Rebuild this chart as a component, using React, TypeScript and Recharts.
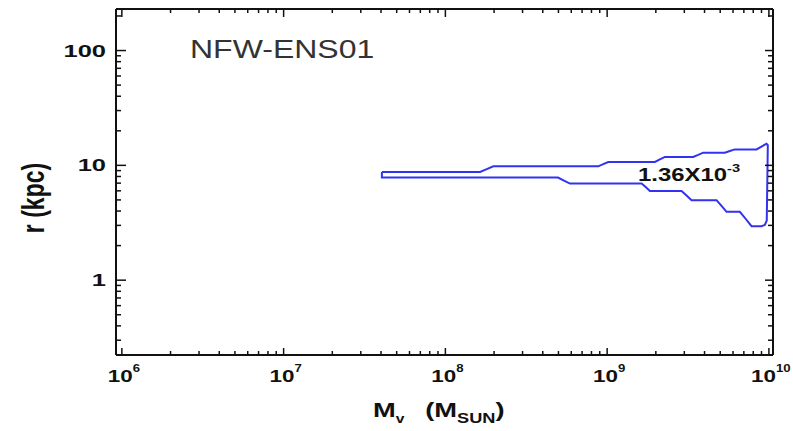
import { LineChart, Line, XAxis, YAxis, Customized } from "recharts";

// contour, upper edge left -> right (Msun, kpc)
const upperMass = [
  4.05e7, 1.638e8, 1.802e8, 1.98e8, 8.81e8, 9.46e8, 1.016e9, 1.974e9, 2.119e9, 2.275e9,
  3.402e9, 3.653e9, 3.923e9, 5.341e9, 5.735e9, 6.158e9, 8.384e9, 9.0e9, 9.665e9, 9.845e9,
];
const upperRadius = [
  8.76, 8.76, 9.27, 9.8, 9.8, 10.24, 10.7, 10.7, 11.25, 11.83,
  11.83, 12.33, 12.89, 12.89, 13.34, 13.77, 13.77, 14.59, 15.43, 14.97,
];
// right side + lower edge, right -> left
const lowerMass = [
  9.7e9, 9.434e9, 9.0e9, 7.807e9, 7.2e9, 6.612e9, 5.472e9, 5.095e9, 4.746e9, 3.325e9,
  3.097e9, 2.885e9, 1.838e9, 1.737e9, 1.634e9, 5.891e8, 5.41e8, 4.967e8, 4.05e7, 4.05e7,
];
const lowerRadius = [
  3.31, 3.027, 2.955, 2.955, 3.41, 3.94, 3.94, 4.43, 4.97, 4.97,
  5.46, 5.99, 5.99, 6.45, 6.94, 6.94, 7.36, 7.82, 7.82, 8.76,
];

const xMajor = [1e6, 1e7, 1e8, 1e9, 1e10];
const xLabels = ["6", "7", "8", "9", "10"];
const yMajor = [1, 10, 100];
const yLabels = ["1", "10", "100"];
const digits = [2, 3, 4, 5, 6, 7, 8, 9];

const xDomain = [9.2e5, 1.06e10];
const yDomain = [0.223, 230];

const data = [
  ...upperMass.map((m, i) => ({ m, r: upperRadius[i] })),
  ...lowerMass.map((m, i) => ({ m, r: lowerRadius[i] })),
];

const inDomain = (v: number, d: number[]) => v >= d[0] && v <= d[1];
const withMinor = (majors: number[], d: number[]) => {
  const all: number[] = [];
  [majors[0] / 10, ...majors].forEach((p) => {
    [1, ...digits].forEach((k) => {
      const v = p * k;
      if (inDomain(v, d)) all.push(v);
    });
  });
  return all.sort((a, b) => a - b);
};
const xTicks = withMinor(xMajor, xDomain);
const yTicks = withMinor(yMajor, yDomain);

const majorIndex = (v: number, majors: number[]) =>
  majors.findIndex((m) => Math.abs(v / m - 1) < 1e-6);

const FONT = "'Liberation Sans', Arial, Helvetica, sans-serif";
const BLACK = "#111";

const BottomTick = (props: any) => {
  const { x, y, payload } = props;
  const idx = majorIndex(payload.value, xMajor);
  return (
    <g>
      <line x1={x} x2={x} y1={y} y2={y - (idx >= 0 ? 7 : 4)} stroke={BLACK} strokeWidth={1.5} />
      {idx >= 0 && (
        <text
          transform={`translate(${x + 2},${y + 27}) scale(1.32,1)`}
          textAnchor="middle"
          fontFamily={FONT}
          fontWeight="bold"
          fontSize={17}
          fill={BLACK}
        >
          10
          <tspan dy={-10} fontSize={10}>
            {xLabels[idx]}
          </tspan>
        </text>
      )}
    </g>
  );
};

const TopTick = (props: any) => {
  const { x, y, payload } = props;
  const idx = majorIndex(payload.value, xMajor);
  return <line x1={x} x2={x} y1={y} y2={y + (idx >= 0 ? 8 : 4)} stroke={BLACK} strokeWidth={1.5} />;
};

const LeftTick = (props: any) => {
  const { x, y, payload } = props;
  const idx = majorIndex(payload.value, yMajor);
  return (
    <g>
      <line x1={x} x2={x + (idx >= 0 ? 10 : 5)} y1={y} y2={y} stroke={BLACK} strokeWidth={1.5} />
      {idx >= 0 && (
        <text
          transform={`translate(${x - 10},${y + 6}) scale(1.5,1)`}
          textAnchor="end"
          fontFamily={FONT}
          fontWeight="bold"
          fontSize={17}
          fill={BLACK}
        >
          {yLabels[idx]}
        </text>
      )}
    </g>
  );
};

const RightTick = (props: any) => {
  const { x, y, payload } = props;
  const idx = majorIndex(payload.value, yMajor);
  return <line x1={x} x2={x - (idx >= 0 ? 8 : 5)} y1={y} y2={y} stroke={BLACK} strokeWidth={1.5} />;
};

const Annotations = () => (
  <g fontFamily={FONT}>
    <text transform="translate(190,58) scale(1.28,1)" fontSize={25} fill="#333">
      NFW-ENS01
    </text>
    <text
      transform="translate(638,181) scale(1.33,1)"
      fontSize={18}
      fontWeight="bold"
      fill={BLACK}
    >
      1.36X10
      <tspan dy={-9} fontSize={11}>
        -3
      </tspan>
    </text>
    <text
      transform="translate(44,198) scale(1.35,1) rotate(-90)"
      textAnchor="middle"
      fontSize={23}
      fontWeight="bold"
      fill={BLACK}
    >
      r (kpc)
    </text>
    <text
      transform="translate(373,417) scale(1.3,1)"
      fontSize={21}
      fontWeight="bold"
      fill={BLACK}
    >
      M
      <tspan dy={6} fontSize={12}>
        v
      </tspan>
      <tspan dy={-6} dx={16}>
        (M
      </tspan>
      <tspan dy={6} fontSize={14}>
        SUN
      </tspan>
      <tspan dy={-6}>)</tspan>
    </text>
  </g>
);

export default function App() {
  return (
    <div style={{ position: "absolute", left: 0, top: 0, background: "#fff" }}>
      <LineChart
        width={793}
        height={431}
        data={data}
        margin={{ top: 8, right: 19, bottom: 0, left: 0 }}
      >
        <XAxis
          dataKey="m"
          type="number"
          scale="log"
          domain={xDomain}
          allowDataOverflow
          ticks={xTicks}
          interval={0}
          height={76}
          tickSize={0}
          tickMargin={0}
          tick={BottomTick}
          axisLine={{ stroke: BLACK, strokeWidth: 2 }}
        />
        <XAxis
          xAxisId="top"
          orientation="top"
          dataKey="m"
          type="number"
          scale="log"
          domain={xDomain}
          allowDataOverflow
          ticks={xTicks}
          interval={0}
          height={1}
          tickSize={0}
          tickMargin={0}
          tick={TopTick}
          axisLine={{ stroke: BLACK, strokeWidth: 2 }}
        />
        <YAxis
          type="number"
          scale="log"
          domain={yDomain}
          allowDataOverflow
          ticks={yTicks}
          interval={0}
          width={116}
          tickSize={0}
          tickMargin={0}
          tick={LeftTick}
          axisLine={{ stroke: BLACK, strokeWidth: 2 }}
        />
        <YAxis
          yAxisId="right"
          orientation="right"
          type="number"
          scale="log"
          domain={yDomain}
          allowDataOverflow
          ticks={yTicks}
          interval={0}
          width={1}
          tickSize={0}
          tickMargin={0}
          tick={RightTick}
          axisLine={{ stroke: BLACK, strokeWidth: 2 }}
        />
        <Line
          dataKey="r"
          type="linear"
          stroke="#3232f0"
          strokeWidth={2}
          dot={false}
          isAnimationActive={false}
        />
        <Customized component={Annotations} />
      </LineChart>
    </div>
  );
}
